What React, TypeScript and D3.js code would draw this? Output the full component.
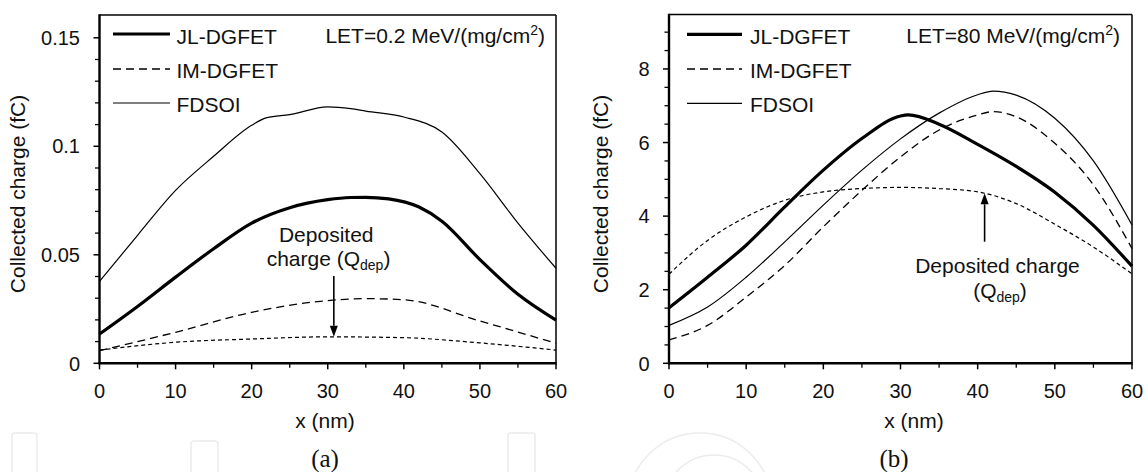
import React from 'react';
import * as d3 from 'd3';

const FONT = '"Liberation Sans", Arial, Helvetica, sans-serif';
const SERIF = '"Liberation Serif", "Times New Roman", serif';

// ---------- shared axis ticks ----------
const xTicks = [0, 10, 20, 30, 40, 50, 60];
const xMinorTicks = [5, 15, 25, 35, 45, 55];

// ---------- panel (a): LET = 0.2 ----------
const aYTicks = [0, 0.05, 0.1, 0.15];
const aYTickLabels = ['0', '0.05', '0.1', '0.15'];
const aYMinor = [0.01, 0.02, 0.03, 0.04, 0.06, 0.07, 0.08, 0.09, 0.11, 0.12, 0.13, 0.14];

const aFdsoiX = [0, 5, 10, 15, 20, 22, 25, 30, 33, 35, 40, 45, 50, 55, 60];
const aFdsoiY = [0.0377, 0.059, 0.0797, 0.0954, 0.1097, 0.1132, 0.1146, 0.1182, 0.1174, 0.1162, 0.1135, 0.1066, 0.0874, 0.0646, 0.0438];

const aJlX = [0, 5, 10, 15, 20, 25, 30, 33, 35, 38, 42, 45, 50, 55, 60];
const aJlY = [0.0135, 0.0262, 0.0397, 0.0528, 0.0646, 0.0717, 0.0754, 0.0764, 0.0765, 0.0758, 0.072, 0.0655, 0.0478, 0.0318, 0.0199];

const aImX = [0, 10, 20, 30, 35, 40, 50, 60];
const aImY = [0.0058, 0.0143, 0.0235, 0.0289, 0.0298, 0.0293, 0.0195, 0.0092];

const aQdepX = [0, 10, 20, 30, 40, 50, 60];
const aQdepY = [0.0061, 0.0097, 0.0112, 0.0122, 0.0118, 0.0094, 0.0061];

// ---------- panel (b): LET = 80 ----------
const bYTicks = [0, 2, 4, 6, 8];
const bYTickLabels = ['0', '2', '4', '6', '8'];
const bYMinor = [0.5, 1, 1.5, 2.5, 3, 3.5, 4.5, 5, 5.5, 6.5, 7, 7.5, 8.5, 9];

const bJlX = [0, 5, 10, 15, 20, 25, 30, 31, 35, 40, 45, 50, 55, 60];
const bJlY = [1.51, 2.34, 3.21, 4.25, 5.25, 6.11, 6.72, 6.75, 6.5, 5.95, 5.35, 4.65, 3.75, 2.64];

const bImX = [0, 5, 10, 15, 20, 25, 30, 35, 40, 42, 45, 50, 55, 60];
const bImY = [0.64, 1.03, 1.8, 2.66, 3.71, 4.7, 5.61, 6.34, 6.75, 6.84, 6.7, 5.98, 4.85, 3.12];

const bFdsoiX = [0, 5, 10, 15, 20, 25, 30, 35, 40, 42, 45, 50, 55, 60];
const bFdsoiY = [1.03, 1.53, 2.34, 3.3, 4.3, 5.25, 6.1, 6.8, 7.3, 7.4, 7.29, 6.66, 5.5, 3.76];

const bQdepX = [0, 5, 10, 15, 20, 25, 30, 35, 40, 45, 50, 55, 60];
const bQdepY = [2.42, 3.34, 3.98, 4.43, 4.66, 4.75, 4.78, 4.75, 4.66, 4.34, 3.78, 3.16, 2.43];

const legendNames = ['JL-DGFET', 'IM-DGFET', 'FDSOI'];

type Series = { x: number[]; y: number[]; w: number; dash?: string };

const STYLE_JL = { w: 3.2 };
const STYLE_IM = { w: 1.3, dash: '8,5' };
const STYLE_FD = { w: 1.2 };
const STYLE_Q = { w: 1.2, dash: '4,3' };

function Arrow({ x, y1, y2 }: { x: number; y1: number; y2: number }) {
  const dir = y2 > y1 ? 1 : -1;
  const headLen = 11;
  const headW = 4;
  const base = y2 - dir * headLen;
  return (
    <g>
      <line x1={x} x2={x} y1={y1} y2={base} stroke="#000" strokeWidth={1.6} />
      <path d={`M${x - headW},${base} L${x + headW},${base} L${x},${y2} Z`} fill="#000" />
    </g>
  );
}

function Panel(props: {
  left: number; right: number; top: number; bottom: number;
  yMax: number; yTicks: number[]; yTickLabels: string[]; yMinor: number[];
  series: Series[];
  legendX1: number; legendX2: number; legendTextX: number; legendLineY: number[]; legendTextY: number[];
  letText: string; letRight: number;
  yTitleX: number; xTitleX: number; caption: string; captionX: number;
  children?: (xs: d3.ScaleLinear<number, number>, ys: d3.ScaleLinear<number, number>) => React.ReactNode;
}) {
  const { left, right, top, bottom } = props;
  const xs = d3.scaleLinear().domain([0, 60]).range([left, right]);
  const ys = d3.scaleLinear().domain([0, props.yMax]).range([bottom, top]);
  const line = d3
    .line<[number, number]>()
    .x((d) => xs(d[0]))
    .y((d) => ys(d[1]))
    .curve(d3.curveMonotoneX);
  const legendStyles = [STYLE_JL, STYLE_IM, STYLE_FD];
  return (
    <g>
      {props.series.map((s, i) => (
        <path
          key={i}
          d={line(s.x.map((v, j) => [v, s.y[j]] as [number, number])) || ''}
          fill="none"
          stroke="#000"
          strokeWidth={s.w}
          strokeDasharray={s.dash}
          strokeLinejoin="round"
        />
      ))}
      <line x1={left} x2={right} y1={top} y2={top} stroke="#000" strokeWidth={1.5} />
      <line x1={right} x2={right} y1={top} y2={bottom} stroke="#000" strokeWidth={1.5} />
      <line x1={left} x2={left} y1={top - 0.75} y2={bottom + 1} stroke="#000" strokeWidth={2.4} />
      <line x1={left - 1} x2={right + 0.75} y1={bottom} y2={bottom} stroke="#000" strokeWidth={2.4} />
      {xTicks.map((t) => (
        <g key={'xt' + t}>
          <line x1={xs(t)} x2={xs(t)} y1={bottom} y2={bottom + 6} stroke="#000" strokeWidth={1.5} />
          <text x={xs(t)} y={398} textAnchor="middle" fontSize={20} fontFamily={FONT} fill="#111">{t}</text>
        </g>
      ))}
      {xMinorTicks.map((t) => (
        <line key={'xm' + t} x1={xs(t)} x2={xs(t)} y1={bottom} y2={bottom + 4.5} stroke="#000" strokeWidth={1.3} />
      ))}
      {props.yTicks.map((t, i) => (
        <g key={'yt' + t}>
          <line x1={left - 6} x2={left} y1={ys(t)} y2={ys(t)} stroke="#000" strokeWidth={1.5} />
          <text x={left - 19.5} y={ys(t)} dy="0.36em" textAnchor="end" fontSize={20} fontFamily={FONT} fill="#111">
            {props.yTickLabels[i]}
          </text>
        </g>
      ))}
      {props.yMinor.map((t) => (
        <line key={'ym' + t} x1={left - 4.5} x2={left} y1={ys(t)} y2={ys(t)} stroke="#000" strokeWidth={1.3} />
      ))}
      {legendNames.map((n, i) => (
        <g key={n}>
          <line
            x1={props.legendX1}
            x2={props.legendX2}
            y1={props.legendLineY[i]}
            y2={props.legendLineY[i]}
            stroke="#000"
            strokeWidth={legendStyles[i].w}
            strokeDasharray={(legendStyles[i] as any).dash}
          />
          <text x={props.legendTextX} y={props.legendTextY[i]} fontSize={21} fontFamily={FONT} fill="#111">{n}</text>
        </g>
      ))}
      <text x={props.letRight} y={43} textAnchor="end" fontSize={21} fontFamily={FONT} fill="#111">
        {props.letText}
        <tspan fontSize={14} dy={-8}>2</tspan>
        <tspan fontSize={21} dy={8}>)</tspan>
      </text>
      <text
        transform={`translate(${props.yTitleX},194) rotate(-90)`}
        textAnchor="middle"
        dy="0.35em"
        fontSize={21}
        fontFamily={FONT}
        fill="#111"
      >
        Collected charge (fC)
      </text>
      <text x={props.xTitleX} y={428} textAnchor="middle" fontSize={21} fontFamily={FONT} fill="#111">x (nm)</text>
      <text x={props.captionX} y={467} textAnchor="middle" fontSize={25} fontFamily={SERIF} fill="#111">{props.caption}</text>
      {props.children && props.children(xs, ys)}
    </g>
  );
}

export default function App() {
  return (
    <svg
      width={1148}
      height={472}
      viewBox="0 0 1148 472"
      style={{ position: 'absolute', left: 0, top: 0, background: '#fff' }}
    >
      <rect x={0} y={0} width={1148} height={472} fill="#fff" />
      {/* faint background watermark shapes */}
      <g fill="none" stroke="#ececec" strokeWidth={1.5}>
        <rect x={12} y={433} width={25} height={45} rx={3} />
        <rect x={191} y={441} width={27} height={40} rx={3} />
        <rect x={508} y={433} width={27} height={45} rx={3} />
        <circle cx={700} cy={505} r={72} />
        <circle cx={714} cy={505} r={50} />
      </g>
      <Panel
        left={99.5}
        right={556}
        top={15}
        bottom={363.3}
        yMax={0.1605}
        yTicks={aYTicks}
        yTickLabels={aYTickLabels}
        yMinor={aYMinor}
        series={[
          { x: aQdepX, y: aQdepY, ...STYLE_Q },
          { x: aImX, y: aImY, ...STYLE_IM },
          { x: aFdsoiX, y: aFdsoiY, ...STYLE_FD },
          { x: aJlX, y: aJlY, ...STYLE_JL },
        ]}
        legendX1={113}
        legendX2={170}
        legendTextX={176.5}
        legendLineY={[34, 69, 103]}
        legendTextY={[44, 78, 112]}
        letText="LET=0.2 MeV/(mg/cm"
        letRight={545}
        yTitleX={18}
        xTitleX={325}
        caption="(a)"
        captionX={325}
      >
        {(xs, ys) => (
          <g>
            <text x={xs(29.8)} y={242} textAnchor="middle" fontSize={21} fontFamily={FONT} fill="#111">Deposited</text>
            <text x={xs(30.1)} y={266} textAnchor="middle" fontSize={21} fontFamily={FONT} fill="#111">
              charge (Q<tspan fontSize={14} dy={4}>dep</tspan><tspan dy={-4}>)</tspan>
            </text>
            <Arrow x={xs(30.8)} y1={276} y2={ys(0.0122)} />
          </g>
        )}
      </Panel>
      <Panel
        left={669}
        right={1132}
        top={14.5}
        bottom={363.3}
        yMax={9.48}
        yTicks={bYTicks}
        yTickLabels={bYTickLabels}
        yMinor={bYMinor}
        series={[
          { x: bQdepX, y: bQdepY, ...STYLE_Q },
          { x: bImX, y: bImY, ...STYLE_IM },
          { x: bFdsoiX, y: bFdsoiY, ...STYLE_FD },
          { x: bJlX, y: bJlY, ...STYLE_JL },
        ]}
        legendX1={687}
        legendX2={742}
        legendTextX={750}
        legendLineY={[34.3, 69, 103.3]}
        legendTextY={[44, 78, 112]}
        letText="LET=80 MeV/(mg/cm"
        letRight={1120}
        yTitleX={601}
        xTitleX={914}
        caption="(b)"
        captionX={894}
      >
        {(xs, ys) => (
          <g>
            <Arrow x={xs(40.9)} y1={241.7} y2={ys(4.62)} />
            <text x={997.5} y={273} textAnchor="middle" fontSize={21} fontFamily={FONT} fill="#111">Deposited charge</text>
            <text x={1000} y={298} textAnchor="middle" fontSize={21} fontFamily={FONT} fill="#111">
              (Q<tspan fontSize={14} dy={4}>dep</tspan><tspan dy={-4}>)</tspan>
            </text>
          </g>
        )}
      </Panel>
    </svg>
  );
}
